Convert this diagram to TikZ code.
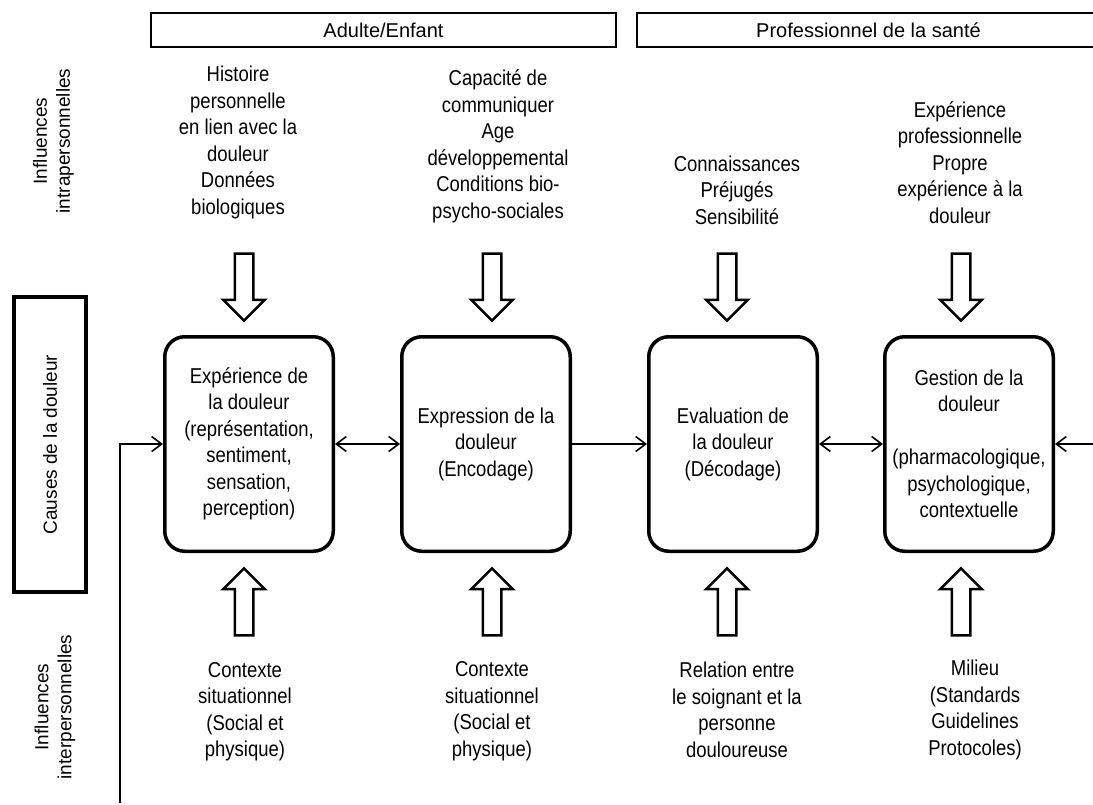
\documentclass[tikz,border=0pt]{standalone}
\usepackage{fontspec}
\setmainfont{Liberation Sans}
\newfontfamily\bodyfont[FakeStretch=0.86]{Liberation Sans}
\usetikzlibrary{arrows.meta, graphs, positioning, shapes.arrows}

\tikzset{
  stage/.style={draw, line width=3.5pt, rounded corners=20pt, minimum width=168.5pt, minimum height=214.5pt, align=center, inner sep=0pt},
  header/.style={draw, line width=2.5pt, minimum height=34pt, inner sep=0pt, font=\rmfamily\fontsize{20}{24}\selectfont},
  influence/.style={align=center, inner sep=0pt},
  sidelabel/.style={rotate=90, align=center, inner sep=0pt, font=\rmfamily\fontsize{19}{23}\selectfont},
  bigarrow/.style={draw, single arrow, line width=2.5pt, minimum height=67pt, inner xsep=0pt, inner ysep=8pt, single arrow head extend=11.5pt, single arrow head indent=0pt},
  link/.style={line width=1.6pt},
}

\begin{document}
\begin{tikzpicture}[x=1pt, y=-1pt, font=\bodyfont\fontsize{21.5}{26.5}\selectfont, >={Straight Barb[length=10pt,width=15pt]}]
  \useasboundingbox (0,0) rectangle (1093,805);

  % headers
  \node[header, minimum width=465pt] (adulte) at (383.5,30) {Adulte/Enfant};
  \node[header, minimum width=463pt] (pro) at (868.5,30) {Professionnel de la santé};

  % side labels
  \node[sidelabel] (intra) at (53.5,141) {Influences\\intrapersonnelles};
  \node[draw, line width=4pt, rotate=90, minimum width=295pt, minimum height=72pt, font=\rmfamily\fontsize{19}{23}\selectfont] (causes) at (50,444.5) {Causes de la douleur};
  \node[sidelabel] (inter) at (55,707) {Influences\\interpersonnelles};

  % stages
  \node[stage] (b1) at (249,444) {Expérience de\\la douleur\\(représentation,\\sentiment,\\sensation,\\perception)};
  \node[stage, right=65pt of b1] (b2) {Expression de la\\douleur\\(Encodage)};
  \node[stage, right=75pt of b2] (b3) {Evaluation de\\la douleur\\(Décodage)};
  \node[stage, right=64pt of b3] (b4) {Gestion de la\\douleur\\~\\(pharmacologique,\\psychologique,\\contextuelle};

  % block arrows
  \node[bigarrow, rotate=-90] (d1) at (244,282.5) {};
  \node[bigarrow, rotate=-90] (d2) at (492,282.5) {};
  \node[bigarrow, rotate=-90] (d3) at (727,282.5) {};
  \node[bigarrow, rotate=-90] (d4) at (961,282.5) {};
  \node[bigarrow, rotate=90] (u1) at (244,606.5) {};
  \node[bigarrow, rotate=90] (u2) at (492,606.5) {};
  \node[bigarrow, rotate=90] (u3) at (727,606.5) {};
  \node[bigarrow, rotate=90] (u4) at (961,606.5) {};

  % influences
  \node[influence] (t1) at (238,142.5) {Histoire\\personnelle\\en lien avec la\\douleur\\Données\\biologiques};
  \node[influence] (t2) at (498,146.5) {Capacité de\\communiquer\\Age\\développemental\\Conditions bio-\\psycho-sociales};
  \node[influence] (t3) at (737,190) {Connaissances\\Préjugés\\Sensibilité};
  \node[influence] (t4) at (960,162.5) {Expérience\\professionnelle\\Propre\\expérience à la\\douleur};
  \node[influence] (s1) at (245,711.5) {Contexte\\situationnel\\(Social et\\physique)};
  \node[influence] (s2) at (492,711) {Contexte\\situationnel\\(Social et\\physique)};
  \node[influence] (s3) at (737,710) {Relation entre\\le soignant et la\\personne\\douloureuse};
  \node[influence] (s4) at (975,710) {Milieu\\(Standards\\Guidelines\\Protocoles)};

  % connectors
  \coordinate (loop) at (120,803);
  \coordinate (outside) at (1093,444);
  \graph[use existing nodes, edges=link]{ b1 <-> b2 -> b3 <-> b4 <- outside; };
  \draw[link, ->] (loop) |- (b1);
\end{tikzpicture}
\end{document}
